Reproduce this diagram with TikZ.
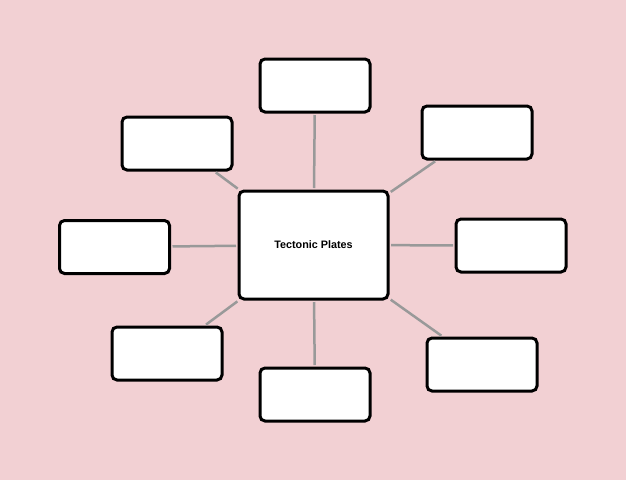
\documentclass[tikz,border=0pt]{standalone}
\usepackage{fontspec}
\setmainfont{Liberation Sans}
\usepackage{tikz}
\definecolor{bgpink}{RGB}{242,208,211}
\definecolor{linkgray}{RGB}{153,153,153}
\newcommand{\boxw}{110pt}
\newcommand{\boxh}{53pt}
\tikzset{leaf/.style={rectangle, rounded corners=5pt, draw, line width=3pt, fill=white, minimum width=\boxw, minimum height=\boxh}}
\tikzset{hub/.style={leaf, minimum width=149pt, minimum height=108pt, font=\bfseries\fontsize{10.8}{13}\selectfont}}
\tikzset{link/.style={draw=linkgray, line width=2.5pt}}

\begin{document}
\begin{tikzpicture}[x=1pt, y=-1pt]

  % --- page ---
  \fill[bgpink] (0,0) rectangle (626,480);
  \useasboundingbox (0,0) rectangle (626,480);

  % --- boxes ---
  \node[hub] (plates) at (313.5,245) {Tectonic Plates};
  \node[leaf] (top) at (315,85.5) {};
  \node[leaf] (topright) at (477,132.5) {};
  \node[leaf] (right) at (511,245.5) {};
  \node[leaf] (botright) at (482,364.5) {};
  \node[leaf] (bot) at (315,394.5) {};
  \node[leaf] (botleft) at (167,353.5) {};
  \node[leaf] (left) at (114.5,247) {};
  \node[leaf] (topleft) at (177,143.5) {};

  % --- links ---
  \foreach \n in {top, topright, right, botright, bot, botleft, left, topleft}
    \draw[link, shorten <=1.5pt, shorten >=1.5pt] (plates) -- (\n);

\end{tikzpicture}
\end{document}
